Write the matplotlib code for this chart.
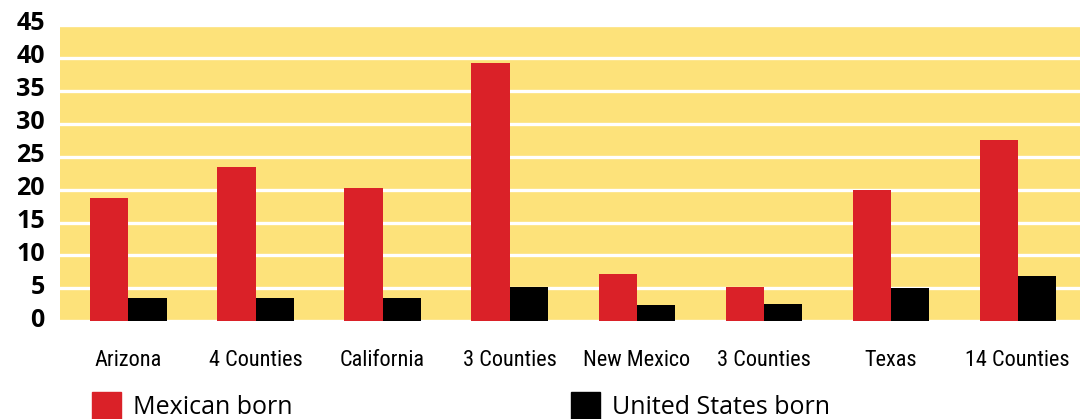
import matplotlib
matplotlib.use("Agg")
import matplotlib.pyplot as plt
import matplotlib.transforms as mtransforms
from matplotlib import font_manager
from matplotlib.patches import Patch
import numpy as np

categories = ["Arizona", "4 Counties", "California", "3 Counties",
              "New Mexico", "3 Counties", "Texas", "14 Counties"]
mexican_born = [18.7, 23.4, 20.2, 39.3, 7.2, 5.2, 20.0, 27.5]
us_born = [3.5, 3.5, 3.5, 5.2, 2.5, 2.6, 5.0, 6.9]
yticks = [0, 5, 10, 15, 20, 25, 30, 35, 40, 45]

RED = "#DA2128"
BLACK = "#000000"
YELLOW = "#FDE27A"

# pick a condensed face if one is installed
names = {f.name for f in font_manager.fontManager.ttflist}
cond_stretch = {(f.name, f.stretch) for f in font_manager.fontManager.ttflist}
narrow = None
for cand in ["Roboto Condensed", "Liberation Sans Narrow", "Open Sans Condensed",
             "Noto Sans Condensed", "DejaVu Sans Condensed"]:
    if cand in names:
        narrow = cand
        break
stretch = "normal"
if narrow is None:
    for nm, st in cond_stretch:
        if st in ("condensed", "semi-condensed", 87.5, 75) or (isinstance(st, (int, float)) and st < 100):
            narrow = nm
            stretch = "condensed"
            break
if narrow is None:
    narrow = "DejaVu Sans"

fig = plt.figure(figsize=(10.8, 4.19), dpi=100)
ax = fig.add_axes([60 / 1080, 97.7 / 419, 1020 / 1080, 296.3 / 419])
ax.set_facecolor(YELLOW)

x = np.arange(len(categories))
w = 0.3
ax.bar(x - w / 2, mexican_born, width=w, color=RED, zorder=3)
ax.bar(x + w / 2, us_born, width=w, color=BLACK, zorder=3)

ax.set_xlim(-0.539, 7.49)
ax.set_ylim(0, 45)
ax.set_yticks(yticks)
ax.set_axisbelow(True)
ax.yaxis.grid(True, color="white", linewidth=2.4)
ax.xaxis.grid(False)
for s in ax.spines.values():
    s.set_visible(False)

ax.set_xticks(x)
ax.set_xticklabels(categories)
for lab in ax.get_xticklabels():
    lab.set_family([narrow, "DejaVu Sans"])
    lab.set_fontstretch(stretch)
    lab.set_fontsize(16 if narrow != "DejaVu Sans" else 13)
ax.tick_params(axis="x", length=0, pad=21)
ax.tick_params(axis="y", length=0, pad=11)
for lab in ax.get_yticklabels():
    lab.set_fontsize(18)
    lab.set_fontweight("bold")
    lab.set_family(["Open Sans", "DejaVu Sans"])
    lab.set_transform(lab.get_transform() + mtransforms.ScaledTranslation(0, 4 / 100, fig.dpi_scale_trans))

leg_kw = dict(frameon=False, handlelength=1.15, handleheight=1.3,
              handletextpad=0.5, borderpad=0, borderaxespad=0, loc="upper left",
              prop={"family": ["Open Sans", "DejaVu Sans"], "size": 18})
fig.legend(handles=[Patch(color=RED, label="Mexican born")],
           bbox_to_anchor=(92 / 1080, 1 - 392 / 419), **leg_kw)
fig.legend(handles=[Patch(color=BLACK, label="United States born")],
           bbox_to_anchor=(571 / 1080, 1 - 392 / 419), **leg_kw)

fig.savefig("out.png", dpi=100)
